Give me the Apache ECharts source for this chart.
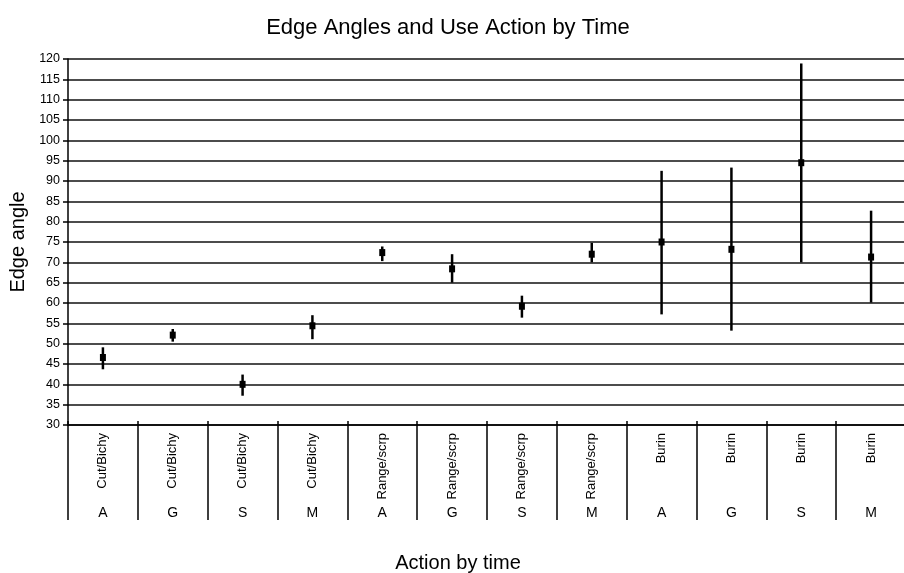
<!DOCTYPE html>
<html>
<head>
<meta charset="utf-8">
<script src="https://cdn.jsdelivr.net/npm/echarts@6/dist/echarts.min.js"></script>
<style>
  html, body { margin: 0; padding: 0; background: #fff; }
  #chart-panel { width: 904px; height: 573px; }
</style>
</head>
<body>
<div id="chart-panel"></div>
<script>
// data
var actions = ["Cut/Bichy", "Cut/Bichy", "Cut/Bichy", "Cut/Bichy",
  "Range/scrp", "Range/scrp", "Range/scrp", "Range/scrp",
  "Burin", "Burin", "Burin", "Burin"];
var times = ["A", "G", "S", "M", "A", "G", "S", "M", "A", "G", "S", "M"];
var means = [46.6, 52.1, 40.0, 54.4, 72.4, 68.4, 59.2, 72.0, 75.0, 73.2, 94.5, 71.3];
var lows = [43.7, 50.5, 37.2, 51.1, 70.3, 65.0, 56.4, 70.0, 57.2, 53.2, 70.0, 60.1];
var highs = [49.1, 53.6, 42.4, 57.0, 73.9, 72.0, 61.8, 74.8, 92.5, 93.3, 118.9, 82.7];

var font = "Liberation Sans, Arial, Helvetica, sans-serif";
var chartPanel = echarts.init(document.getElementById("chart-panel"));

var barData = [];
for (var i = 0; i < means.length; i++) {
  barData.push([i, lows[i], highs[i], means[i]]);
}

var option = {
  animation: false,
  backgroundColor: "#fff",
  title: [
    {
      text: "Edge Angles and Use Action by Time",
      left: 443,
      textAlign: "center",
      top: 12,
      textStyle: { fontFamily: font, fontSize: 22, fontWeight: "normal", color: "#000" }
    },
    {
      // x axis title sits centred on the page, not on the plot
      text: "Action by time",
      left: 453,
      textAlign: "center",
      top: 548,
      textStyle: { fontFamily: font, fontSize: 20, fontWeight: "normal", color: "#000" }
    }
  ],
  grid: { left: 68, top: 59, right: -2, bottom: 148, outerBoundsMode: "none" },
  xAxis: [
    {
      type: "category",
      data: actions,
      position: "bottom",
      axisLine: { lineStyle: { color: "#000", width: 1.5 } },
      axisTick: { show: true, interval: 0, length: 95, lineStyle: { color: "#000", width: 1.5 } },
      axisLabel: {
        interval: 0, rotate: 90, margin: 8,
        fontFamily: font, fontSize: 13, color: "#000"
      },
      splitLine: { show: false }
    },
    {
      type: "category",
      data: times,
      position: "bottom",
      axisLine: { show: false },
      axisTick: { show: false },
      axisLabel: { interval: 0, margin: 81, fontFamily: font, fontSize: 14, color: "#000" }
    },
    {
      // short tick stubs poking up above the axis line
      type: "category",
      data: actions,
      position: "bottom",
      axisLine: { show: false },
      axisTick: { show: true, inside: true, interval: 0, length: 4, lineStyle: { color: "#000", width: 1.5 } },
      axisLabel: { show: false }
    }
  ],
  yAxis: {
    type: "value",
    min: 30,
    max: 120,
    interval: 5,
    name: "Edge angle",
    nameLocation: "middle",
    nameGap: 40,
    nameTextStyle: { fontFamily: font, fontSize: 20, color: "#000" },
    axisLine: { show: true, lineStyle: { color: "#000", width: 1.5 } },
    axisTick: { show: true, length: 5, lineStyle: { color: "#000", width: 1.5 } },
    axisLabel: { margin: 8, fontFamily: font, fontSize: 12.5, color: "#000" },
    splitLine: { show: true, lineStyle: { color: "#111", width: 1.5 } }
  },
  series: [
    {
      type: "custom",
      xAxisIndex: 0,
      data: barData,
      renderItem: function (params, api) {
        var lo = api.coord([api.value(0), api.value(1)]);
        var hi = api.coord([api.value(0), api.value(2)]);
        var m = api.coord([api.value(0), api.value(3)]);
        return {
          type: "group",
          children: [
            {
              type: "line",
              shape: { x1: lo[0], y1: lo[1], x2: hi[0], y2: hi[1] },
              style: { stroke: "#000", lineWidth: 2.5 }
            },
            {
              type: "rect",
              shape: { x: m[0] - 3, y: m[1] - 3.5, width: 6, height: 7 },
              style: { fill: "#000" }
            }
          ]
        };
      }
    }
  ]
};
chartPanel.setOption(option);
</script>
</body>
</html>
